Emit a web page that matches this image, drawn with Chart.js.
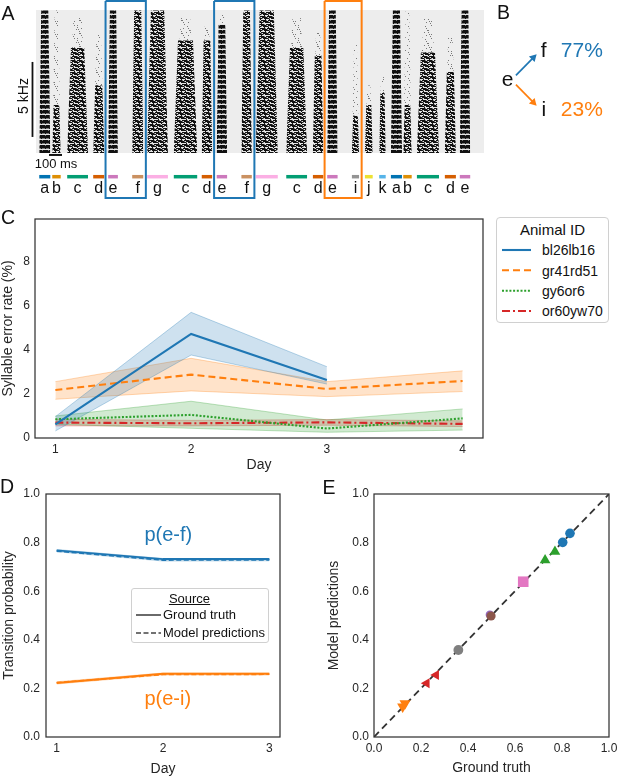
<!DOCTYPE html>
<html><head><meta charset="utf-8">
<script src="https://cdn.jsdelivr.net/npm/chart.js@4.4.1/dist/chart.umd.min.js"></script>
<style>
html,body{margin:0;padding:0;background:#fff;}
body{width:617px;height:778px;position:relative;overflow:hidden;font-family:"Liberation Sans",Arial,Helvetica,sans-serif;color:#111;}
canvas{position:absolute;display:block;}
.t{position:absolute;white-space:nowrap;line-height:1;}
.box{position:absolute;border:1px solid #d0d0d0;border-radius:4px;box-sizing:border-box;background:rgba(255,255,255,0.85);}
svg{position:absolute;left:0;top:0;pointer-events:none;}
</style></head><body>
<canvas id="cA" width="490" height="200" style="left:0;top:0;width:490px;height:200px"></canvas>
<canvas id="cB" width="127" height="160" style="left:490px;top:0;width:127px;height:160px"></canvas>
<canvas id="cC" width="490" height="280" style="left:0;top:200px;width:490px;height:280px"></canvas>
<canvas id="cD" width="300" height="298" style="left:0;top:480px;width:300px;height:298px"></canvas>
<canvas id="cE" width="317" height="298" style="left:300px;top:480px;width:317px;height:298px"></canvas>
<script>
// ---------------- DATA ----------------
// Panel A: song syllables (time in ms, frequency in kHz)
const syllableLabels = ['a','b','c','d','e','f','g','c','d','e','f','g','c','d','e','i','j','k','a','b','c','d','e'];
const syllableOnsetMs  = [25,125,240,440,555,740,855,1060,1275,1390,1580,1690,1925,2130,2240,2430,2530,2640,2730,2825,2930,3145,3260];
const syllableOffsetMs = [110,190,400,525,630,825,1015,1240,1355,1470,1660,1860,2085,2210,2320,2485,2590,2690,2815,2890,3100,3230,3340];
const denseTopKHz = [9.5,3.2,7.0,4.5,9.5,9.5,9.5,7.5,7.5,8.6,9.5,9.5,7.0,6.5,9.5,2.5,3.2,4.0,9.5,3.2,6.7,5.4,9.5];
const faintTopKHz = [9.5,9.5,9.0,7.9,9.5,9.5,9.5,9.0,8.5,9.2,9.5,9.5,9.0,8.0,9.5,7.2,4.5,5.5,9.5,9.5,9.0,7.8,9.5];
const recordingMs = 3446;
const maxFreqKHz = 9.53;
const highlightedPairs = [[4,5],[9,10],[14,15]];
const scaleBarKHz = 5;
const scaleBarMs = 100;

// Panel B: transitions from syllable e
const transitionFrom = 'e';
const transitionTo = ['f','i'];
const transitionPct = [77, 23];

// Panel C: syllable error rate (%) per day
const days = [1,2,3,4];
const animalIds = ['bl26lb16','gr41rd51','gy6or6','or60yw70'];
const bl26lb16Mean = [0.62,4.73,2.64];
const bl26lb16Lo   = [0.32,3.77,2.45];
const bl26lb16Hi   = [0.97,5.71,3.24];
const gr41rd51Mean = [2.18,2.88,2.23,2.59];
const gr41rd51Lo   = [1.76,2.14,1.88,2.11];
const gr41rd51Hi   = [2.56,3.62,2.56,3.05];
const gy6or6Mean   = [0.85,1.05,0.43,0.89];
const gy6or6Lo     = [0.62,0.44,0.26,0.36];
const gy6or6Hi     = [1.00,1.67,0.82,1.32];
const or60yw70Mean = [0.70,0.67,0.71,0.64];
const or60yw70Lo   = [0.55,0.55,0.58,0.52];
const or60yw70Hi   = [0.85,0.80,0.84,0.78];
const cYTicks = [0,2,4,6,8];

// Panel D: transition probabilities per day
const dDays = [1,2,3];
const pEFTruth = [0.768,0.732,0.732];
const pEFModel = [0.765,0.728,0.729];
const pEFLo    = [0.760,0.722,0.723];
const pEFHi    = [0.774,0.737,0.737];
const pEITruth = [0.222,0.260,0.260];
const pEIModel = [0.224,0.257,0.258];
const pEILo    = [0.216,0.253,0.253];
const pEIHi    = [0.229,0.265,0.265];
const probTicks = [0,0.2,0.4,0.6,0.8,1.0];

// Panel E: ground truth vs model predictions
const eGroundTruth = [0.834,0.803,0.770,0.728,0.635,0.493,0.498,0.359,0.264,0.224,0.132,0.122];
const eModelPred   = [0.838,0.801,0.763,0.728,0.639,0.503,0.498,0.358,0.255,0.221,0.138,0.125];
const eGroup       = [0,0,1,1,2,7,3,4,5,5,6,6];

// ---------------- STYLE ----------------
const FONT = '"Liberation Sans", Arial, Helvetica, sans-serif';
const INK = '#262626';
const T10 = {blue:'#1f77b4',orange:'#ff7f0e',green:'#2ca02c',red:'#d62728',purple:'#9467bd',brown:'#8c564b',pink:'#e377c2',gray:'#7f7f7f'};
const syllableColors = {a:'#0173b2',b:'#de8f05',c:'#029e73',d:'#d55e00',e:'#cc78bc',f:'#ca9161',g:'#fbafe4',i:'#949494',j:'#ece133',k:'#56b4e9'};
const NONE = 'rgba(0,0,0,0)';

Chart.defaults.font.family = FONT;
Chart.defaults.color = INK;
Chart.defaults.animation = false;
Chart.defaults.responsive = false;
Chart.defaults.plugins.legend.display = false;
Chart.defaults.plugins.tooltip.enabled = false;
Chart.defaults.elements.line.tension = 0;

function rgba(hex, a){const n=parseInt(hex.slice(1),16);return `rgba(${n>>16},${(n>>8)&255},${n&255},${a})`;}
function pts(xs, ys){return ys.map((v,i)=>({x:xs[i],y:v}));}

function addText(txt, x, baseline, size, opts={}) {
  const d=document.createElement('div'); d.className='t'; d.textContent=txt;
  d.style.fontSize=size+'px'; d.style.left=x+'px'; d.style.top=(baseline-0.8465*size)+'px';
  if(opts.color) d.style.color=opts.color;
  if(opts.align==='center') d.style.transform='translateX(-50%)';
  if(opts.underline){d.style.textDecoration='underline';d.style.textUnderlineOffset='1px';}
  document.body.appendChild(d); return d;
}

const framePlugin = {
  id:'frame',
  afterDatasetsDraw(chart){
    const {ctx, chartArea:a} = chart;
    ctx.save(); ctx.strokeStyle='#333'; ctx.lineWidth=1.25;
    ctx.strokeRect(a.left, a.top, a.right-a.left, a.bottom-a.top);
    ctx.restore();
  }
};

function xAxis(o){
  return {type:'linear', min:o.min, max:o.max,
    grid:{display:false, drawTicks:false}, border:{display:false},
    afterBuildTicks:s=>{s.ticks=o.ticks.map(v=>({value:v}));},
    afterFit:s=>{s.height=o.height; s.paddingLeft=0; s.paddingRight=0;},
    ticks:{padding:o.tickPad, font:{size:12}, color:INK, maxRotation:0, autoSkip:false, callback:v=>o.fmt(v)},
    title:{display:true, text:o.title, font:{size:14}, color:INK, padding:{top:0,bottom:o.titlePad}}};
}
function yAxis(o){
  return {type:'linear', min:o.min, max:o.max,
    grid:{display:false, drawTicks:false}, border:{display:false},
    afterBuildTicks:s=>{s.ticks=o.ticks.map(v=>({value:v}));},
    afterFit:s=>{s.width=o.width; s.paddingTop=0; s.paddingBottom=0;},
    ticks:{padding:o.tickPad, font:{size:12}, color:INK, autoSkip:false, callback:v=>o.fmt(v)},
    title:{display:true, text:o.title, font:{size:14}, color:INK, padding:{top:o.titlePad,bottom:0}}};
}

// ---------------- PANEL A ----------------
function makePattern(w,h,isDark,dark,light){
  const c=document.createElement('canvas'); c.width=w; c.height=h;
  const g=c.getContext('2d');
  for(let y=0;y<h;y++) for(let x=0;x<w;x++){
    const v=isDark(x,y);
    if(v===1){g.fillStyle=dark; g.fillRect(x,y,1,1);}
    else if(v===2){g.fillStyle='#7a7a7a'; g.fillRect(x,y,1,1);}
    else if(light){g.fillStyle=light; g.fillRect(x,y,1,1);}
  }
  return document.getElementById('cA').getContext('2d').createPattern(c,'repeat');
}
// harmonic-stack texture (horizontal bands)
const ladderPattern = makePattern(12,10,(x,y)=>{
  const r=y%5; if(r<3) return ((x+3*Math.floor(y/5))%6===0 && r===0)?2:1; return r===3?((x%4===1)?1:2):0;
},'#111','#e6e6e6');
// broadband/noisy texture (short horizontal streaks with gaps)
const noisePattern = makePattern(14,12,(x,y)=>{
  if(y%4===3) return ((x+y)%5===0)?1:0;
  const o=(y*5)%7; return ((x+o)%7<5)?1:(((x+o)%7===5)?2:0);
},'#121212','#e6e6e6');
// sparse faint speckle above the dense parts
const faintPattern = makePattern(17,13,(x,y)=>((x*3+y*7)%17===0)?1:(((x*5+y*2)%23===0)?2:0),'rgba(70,70,70,0.7)',null);

const SEGMENT_ROW = -1.58;   // kHz-equivalent row for the colour bars
const BOX_PAD = 20;          // ms
const BOX_TOP = 10.13, BOX_BOTTOM = -3.0;
const TAPER = 0.18, FAINT_TAPER = 0.3;
function taperShape(on,off,top,t){const w=(off-on)*t;return [{x:on,y:0},{x:on+w,y:top},{x:off-w,y:top},{x:off,y:0}];}
const aDatasets = [];
aDatasets.push({data:[{x:0,y:maxFreqKHz},{x:recordingMs,y:maxFreqKHz}], fill:'origin', backgroundColor:'#ededed', borderColor:NONE, borderWidth:0, pointRadius:0, order:100});
syllableLabels.forEach((lab,i)=>{
  const on=syllableOnsetMs[i], off=syllableOffsetMs[i];
  if(faintTopKHz[i]>denseTopKHz[i]){
    aDatasets.push({data:taperShape(on,off,faintTopKHz[i],FAINT_TAPER), fill:'origin', backgroundColor:faintPattern, borderColor:NONE, borderWidth:0, pointRadius:0, order:50});
  }
  aDatasets.push({data:taperShape(on,off,denseTopKHz[i],TAPER), fill:'origin', backgroundColor:(lab==='a'||lab==='e')?ladderPattern:noisePattern, borderColor:NONE, borderWidth:0, pointRadius:0, order:40});
  aDatasets.push({data:[{x:on,y:SEGMENT_ROW},{x:off,y:SEGMENT_ROW}], borderColor:syllableColors[lab], borderWidth:3.5, borderCapStyle:'butt', pointRadius:0, fill:false, order:2});
});
highlightedPairs.forEach(([i,j])=>{
  const x0=syllableOnsetMs[i]-BOX_PAD, x1=syllableOffsetMs[j]+BOX_PAD;
  const col = syllableLabels[j]==='f' ? T10.blue : T10.orange;
  aDatasets.push({data:[{x:x0,y:BOX_TOP},{x:x1,y:BOX_TOP},{x:x1,y:BOX_BOTTOM},{x:x0,y:BOX_BOTTOM},{x:x0,y:BOX_TOP}], borderColor:col, borderWidth:2, pointRadius:0, fill:false, order:1});
});
// scale bars
aDatasets.push({data:[{x:-27,y:1.07},{x:-27,y:1.07+scaleBarKHz}], borderColor:'#111', borderWidth:1.8, pointRadius:0, fill:false, order:1});
aDatasets.push({data:[{x:scaleBarMs,y:-0.13},{x:2*scaleBarMs,y:-0.13}], borderColor:'#111', borderWidth:2, borderCapStyle:'butt', pointRadius:0, fill:false, order:1});

const aLabelsPlugin = {
  id:'aLabels',
  afterDatasetsDraw(chart){
    const {ctx, scales:{x,y}} = chart;
    ctx.save(); ctx.font='16px '+FONT; ctx.fillStyle='#111'; ctx.textAlign='center'; ctx.textBaseline='alphabetic';
    const yb = y.getPixelForValue(SEGMENT_ROW)+16.3;
    syllableLabels.forEach((l,i)=>ctx.fillText(l, x.getPixelForValue((syllableOnsetMs[i]+syllableOffsetMs[i])/2), yb));
    ctx.restore();
  }
};
new Chart(document.getElementById('cA'), {
  type:'line',
  data:{datasets:aDatasets},
  options:{layout:{padding:0},
    scales:{x:{type:'linear', display:false, min:-276.9, max:3492.3}, y:{type:'linear', display:false, min:-3.133, max:10.2}}},
  plugins:[aLabelsPlugin]
});

// ---------------- PANEL B ----------------
const bColors = [T10.blue, T10.orange];
const eNode = {x:0, y:0.5};
const targetNodes = transitionTo.map((t,k)=>({x:1, y:1-k}));
const bDatasets = targetNodes.map((n,k)=>{
  const s = n.y>eNode.y?1:-1;
  return {data:[{x:eNode.x+0.23, y:eNode.y+s*0.079},{x:n.x-0.287, y:n.y-s*0.122}],
    borderColor:bColors[k], borderWidth:1.7, fill:false,
    pointRadius:[0,4.6], pointStyle:'triangle', pointBackgroundColor:bColors[k], pointBorderWidth:0, pointBorderColor:NONE,
    pointRotation:(c)=>{
      const d=c.chart.data.datasets[c.datasetIndex].data, xs=c.chart.scales.x, ys=c.chart.scales.y;
      const dx=xs.getPixelForValue(d[1].x)-xs.getPixelForValue(d[0].x);
      const dy=ys.getPixelForValue(d[1].y)-ys.getPixelForValue(d[0].y);
      return Math.atan2(dx,-dy)*180/Math.PI;
    }};
});
const bTextPlugin = {
  id:'bText',
  afterDatasetsDraw(chart){
    const {ctx, scales:{x,y}} = chart;
    ctx.save(); ctx.font='21px '+FONT; ctx.textBaseline='alphabetic';
    ctx.fillStyle='#111'; ctx.textAlign='center';
    ctx.fillText(transitionFrom, x.getPixelForValue(eNode.x), y.getPixelForValue(eNode.y)+5.5);
    targetNodes.forEach((n,k)=>{
      ctx.fillStyle='#111'; ctx.textAlign='center';
      ctx.fillText(transitionTo[k], x.getPixelForValue(n.x), y.getPixelForValue(n.y)+6.5);
      ctx.fillStyle=bColors[k]; ctx.textAlign='left';
      ctx.fillText(transitionPct[k]+'%', x.getPixelForValue(n.x)+17, y.getPixelForValue(n.y)+6.5);
    });
    ctx.restore();
  }
};
new Chart(document.getElementById('cB'), {
  type:'line', data:{datasets:bDatasets},
  options:{layout:{padding:0}, scales:{x:{type:'linear', display:false, min:-0.359, max:2.897}, y:{type:'linear', display:false, min:-0.770, max:1.770}}},
  plugins:[bTextPlugin]
});

// ---------------- PANEL C ----------------
const cSeries = [
  {mean:bl26lb16Mean, lo:bl26lb16Lo, hi:bl26lb16Hi, color:T10.blue,   dash:[]},
  {mean:gr41rd51Mean, lo:gr41rd51Lo, hi:gr41rd51Hi, color:T10.orange, dash:[7,4]},
  {mean:gy6or6Mean,   lo:gy6or6Lo,   hi:gy6or6Hi,   color:T10.green,  dash:[2,1.7]},
  {mean:or60yw70Mean, lo:or60yw70Lo, hi:or60yw70Hi, color:T10.red,    dash:[8,3,2,3]}
];
const cDatasets = [];
cSeries.forEach(s=>{
  cDatasets.push({data:pts(days,s.hi), fill:'+1', backgroundColor:rgba(s.color,0.22), borderColor:rgba(s.color,0.3), borderWidth:1, pointRadius:0, order:5});
  cDatasets.push({data:pts(days,s.lo), fill:false, borderColor:rgba(s.color,0.3), borderWidth:1, pointRadius:0, order:5});
});
cSeries.forEach(s=>{
  cDatasets.push({data:pts(days,s.mean), fill:false, borderColor:s.color, borderWidth:2.1, borderDash:s.dash, pointRadius:0, order:1});
});
new Chart(document.getElementById('cC'), {
  type:'line', data:{datasets:cDatasets},
  options:{layout:{padding:{top:19,right:7,left:0,bottom:0}},
    scales:{
      x:xAxis({min:0.85,max:4.15,ticks:days,fmt:v=>String(v),title:'Day',tickPad:4,titlePad:6.9,height:42}),
      y:yAxis({min:0,max:9.95,ticks:cYTicks,fmt:v=>String(v),title:'Syllable error rate (%)',tickPad:5,titlePad:0,width:35})
    }},
  plugins:[framePlugin]
});

// ---------------- PANEL D ----------------
const dDatasets = [
  {data:pts(dDays,pEFHi), fill:'+1', backgroundColor:rgba(T10.blue,0.3), borderColor:NONE, borderWidth:0, pointRadius:0, order:5},
  {data:pts(dDays,pEFLo), fill:false, borderColor:NONE, borderWidth:0, pointRadius:0, order:5},
  {data:pts(dDays,pEIHi), fill:'+1', backgroundColor:rgba(T10.orange,0.3), borderColor:NONE, borderWidth:0, pointRadius:0, order:5},
  {data:pts(dDays,pEILo), fill:false, borderColor:NONE, borderWidth:0, pointRadius:0, order:5},
  {data:pts(dDays,pEFTruth), fill:false, borderColor:T10.blue, borderWidth:2, pointRadius:0, order:2},
  {data:pts(dDays,pEITruth), fill:false, borderColor:T10.orange, borderWidth:2, pointRadius:0, order:2},
  {data:pts(dDays,pEFModel), fill:false, borderColor:T10.blue, borderWidth:1.6, borderDash:[5,2.5], pointRadius:0, order:1},
  {data:pts(dDays,pEIModel), fill:false, borderColor:T10.orange, borderWidth:1.6, borderDash:[5,2.5], pointRadius:0, order:1}
];
const dTextPlugin = {
  id:'dText',
  afterDatasetsDraw(chart){
    const {ctx, scales:{x,y}} = chart;
    ctx.save(); ctx.font='20px '+FONT; ctx.textAlign='center'; ctx.textBaseline='alphabetic';
    ctx.fillStyle=T10.blue;   ctx.fillText('p(e-f)', x.getPixelForValue(dDays[1]+0.05), y.getPixelForValue(pEFTruth[1]+0.075));
    ctx.fillStyle=T10.orange; ctx.fillText('p(e-i)', x.getPixelForValue(dDays[1]+0.045), y.getPixelForValue(pEITruth[1]-0.128));
    ctx.restore();
  }
};
new Chart(document.getElementById('cD'), {
  type:'line', data:{datasets:dDatasets},
  options:{layout:{padding:{top:14,right:20,left:0,bottom:0}},
    scales:{
      x:xAxis({min:0.9,max:3.1,ticks:dDays,fmt:v=>String(v),title:'Day',tickPad:4,titlePad:0.9,height:41}),
      y:yAxis({min:0,max:1,ticks:probTicks,fmt:v=>v.toFixed(1),title:'Transition probability',tickPad:6,titlePad:0.8,width:46})
    }},
  plugins:[dTextPlugin, framePlugin]
});

// ---------------- PANEL E ----------------
const groupColor  = [T10.blue,T10.green,T10.pink,T10.brown,T10.gray,T10.red,T10.orange,T10.purple];
const groupShape  = ['circle','triangle','rect','circle','circle','triangle','triangle','circle'];
const groupRot    = [0,0,0,0,0,-90,180,0];
const groupRadius = [4.8,6.2,7.5,4.6,4.9,5.8,6.4,4.2];
const eDatasets = [{type:'line', data:[{x:probTicks[0],y:probTicks[0]},{x:probTicks[probTicks.length-1],y:probTicks[probTicks.length-1]}], borderColor:'#333', borderWidth:1.8, borderDash:[7,4.5], pointRadius:0, fill:false, order:10}];
eGroundTruth.forEach((gt,i)=>{
  const g=eGroup[i];
  eDatasets.push({type:'scatter', data:[{x:gt,y:eModelPred[i]}], pointStyle:groupShape[g], pointRotation:groupRot[g], pointRadius:groupRadius[g],
    pointBackgroundColor:groupColor[g], pointBorderWidth:0, pointBorderColor:NONE, order:g===7?9:1});
});
new Chart(document.getElementById('cE'), {
  type:'scatter', data:{datasets:eDatasets},
  options:{layout:{padding:{top:14,right:8,left:0,bottom:0}},
    scales:{
      x:xAxis({min:0,max:1,ticks:probTicks,fmt:v=>v.toFixed(1),title:'Ground truth',tickPad:4,titlePad:1.4,height:41}),
      y:yAxis({min:0,max:1,ticks:probTicks,fmt:v=>v.toFixed(1),title:'Model predictions',tickPad:5,titlePad:26,width:74})
    }},
  plugins:[framePlugin]
});

// ---------------- TEXT / LEGENDS ----------------
addText('A', 1.5, 20.6, 19.5);
addText('B', 497, 20, 19.5);
addText('C', 1, 225, 19.5);
addText('D', 0, 494, 19.5);
addText('E', 322.5, 494.5, 19.5);
addText('100 ms', 56, 168.3, 13, {align:'center'});
const kd = addText('5 kHz', 0, 0, 14);
kd.style.left='22.5px'; kd.style.top='96px'; kd.style.transform='translate(-50%,-50%) rotate(-90deg)';

// Legend C
const lc = document.createElement('div'); lc.className='box';
Object.assign(lc.style,{left:'496px',top:'217px',width:'113px',height:'106px'}); document.body.appendChild(lc);
addText('Animal ID', 552.5, 235, 15, {align:'center'});
const legBase = [255,275.5,295.5,315.5];
animalIds.forEach((id,k)=>addText(id, 542, legBase[k], 14));
// Legend D
const ld = document.createElement('div'); ld.className='box';
Object.assign(ld.style,{left:'131px',top:'588px',width:'138px',height:'55px',borderRadius:'3px'}); document.body.appendChild(ld);
addText('Source', 189.5, 603.3, 13, {align:'center', underline:true});
addText('Ground truth', 163, 619.5, 13);
addText('Model predictions', 163, 637.5, 13);

const ns='http://www.w3.org/2000/svg';
const svg=document.createElementNS(ns,'svg'); svg.setAttribute('width','617'); svg.setAttribute('height','778');
function svgLine(x1,y1,x2,y2,color,w,dash){
  const l=document.createElementNS(ns,'line');
  l.setAttribute('x1',x1);l.setAttribute('y1',y1);l.setAttribute('x2',x2);l.setAttribute('y2',y2);
  l.setAttribute('stroke',color);l.setAttribute('stroke-width',w);
  if(dash&&dash.length) l.setAttribute('stroke-dasharray',dash.join(' '));
  svg.appendChild(l);
}
const legLineY=[250,270.3,290.7,311];
cSeries.forEach((s,k)=>svgLine(502,legLineY[k],531,legLineY[k],s.color,2.1,s.dash));
svgLine(136,615,161,615,'#444',1.6,[]);
svgLine(136,633,161,633,'#444',1.6,[5,2.5]);
document.body.appendChild(svg);
</script>
</body></html>
